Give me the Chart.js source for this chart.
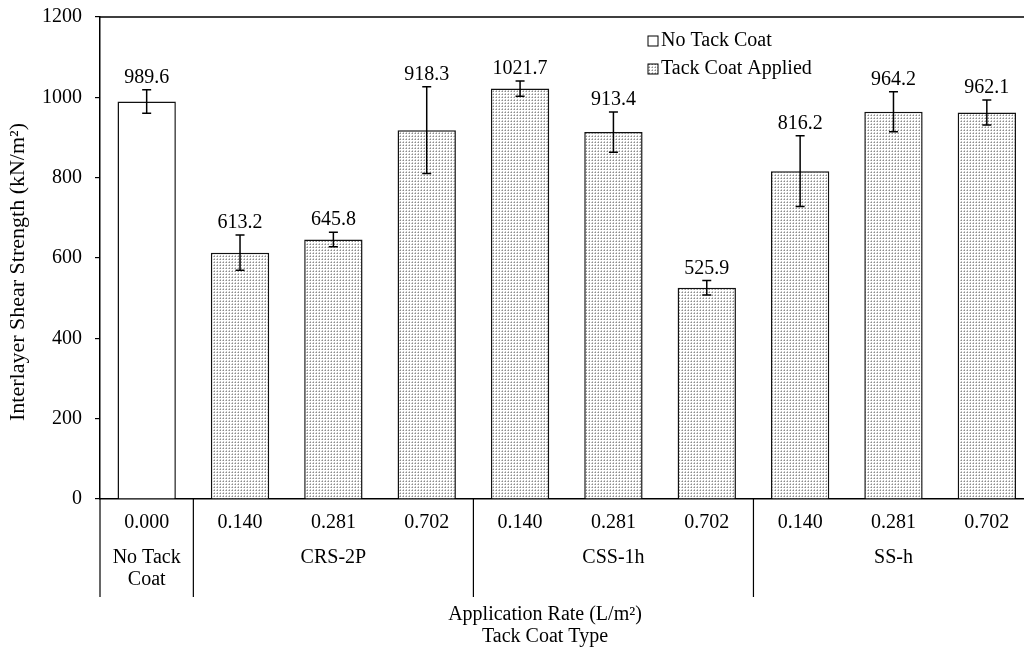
<!DOCTYPE html>
<html lang="en">
<head>
    <meta charset="UTF-8" />
    <title>Interlayer Shear Strength</title>
    <script src="https://cdn.jsdelivr.net/npm/chart.js"></script>
    <style>
        html, body { margin: 0; padding: 0; background: #fff; overflow: hidden; }
        #wrap { width: 1040px; height: 649px; }
    </style>
</head>
<body>
    <div id="wrap"><canvas id="myChart"></canvas></div>

    <script>
        // application rates (L/m²), one per bar
        const rates = ["0.000", "0.140", "0.281", "0.702", "0.140", "0.281", "0.702", "0.140", "0.281", "0.702"];
        // tack coat types and how many bars each one spans
        const types = [["No Tack", "Coat"], ["CRS-2P"], ["CSS-1h"], ["SS-h"]];
        const typeSpans = [1, 3, 3, 3];

        const noTackValues = [989.6, null, null, null, null, null, null, null, null, null];
        const appliedValues = [null, 613.2, 645.8, 918.3, 1021.7, 913.4, 525.9, 816.2, 964.2, 962.1];
        const errorValues = [29, 44, 18, 108, 19, 50, 18, 88, 50, 31];

        const yMin = 0, yMax = 1200, yStep = 200;

        const FONT = "'Liberation Serif', 'Times New Roman', serif";

        function makeDots() {
            const c = document.createElement("canvas");
            c.width = 3; c.height = 3;
            const g = c.getContext("2d");
            g.fillStyle = "#fff";
            g.fillRect(0, 0, 3, 3);
            g.fillStyle = "#8c8c8c";
            g.fillRect(1, 1, 1, 1);
            g.fillStyle = "#c4c4c4";
            g.fillRect(0, 1, 1, 1);
            g.fillRect(1, 0, 1, 1);
            return g.createPattern(c, "repeat");
        }
        const dots = makeDots();

        const extras = {
            id: "extras",
            afterDatasetsDraw(chart) {
                const { ctx, chartArea, scales } = chart;
                const x = scales.x, y = scales.y;
                ctx.save();

                // frame on top
                ctx.strokeStyle = "#000";
                ctx.lineWidth = 1.5;
                ctx.beginPath();
                ctx.moveTo(chartArea.left, chartArea.top);
                ctx.lineTo(chartArea.right, chartArea.top);
                ctx.lineTo(chartArea.right, chartArea.bottom);
                ctx.stroke();

                // error bars + value labels
                const values = noTackValues.map((v, i) => v != null ? v : appliedValues[i]);
                ctx.font = "20px " + FONT;
                ctx.fillStyle = "#000";
                ctx.textAlign = "center";
                ctx.textBaseline = "alphabetic";
                values.forEach((v, i) => {
                    const cx = x.getPixelForValue(i);
                    const hi = y.getPixelForValue(v + errorValues[i]);
                    const lo = y.getPixelForValue(v - errorValues[i]);
                    ctx.beginPath();
                    ctx.moveTo(cx, hi); ctx.lineTo(cx, lo);
                    ctx.moveTo(cx - 4.5, hi); ctx.lineTo(cx + 4.5, hi);
                    ctx.moveTo(cx - 4.5, lo); ctx.lineTo(cx + 4.5, lo);
                    ctx.stroke();
                    ctx.fillText(v.toFixed(1), cx, hi - 7);
                });

                // group separators and type labels
                ctx.lineWidth = 1.2;
                let start = 0;
                const edges = [start];
                typeSpans.forEach(s => { start += s; edges.push(start); });
                edges.forEach(e => {
                    const px = x.getPixelForValue(e - 0.5);
                    ctx.beginPath();
                    ctx.moveTo(px, chartArea.bottom);
                    ctx.lineTo(px, chartArea.bottom + 98);
                    ctx.stroke();
                });
                ctx.textBaseline = "middle";
                types.forEach((lines, k) => {
                    const a = x.getPixelForValue(edges[k] - 0.5);
                    const b = x.getPixelForValue(edges[k + 1] - 0.5);
                    lines.forEach((t, j) => {
                        ctx.fillText(t, (a + b) / 2, chartArea.bottom + 59 + j * 22);
                    });
                });

                // axis titles
                ctx.textBaseline = "alphabetic";
                ctx.fillText("Application Rate (L/m\u00B2)", 545, 620);
                ctx.fillText("Tack Coat Type", 545, 642);

                ctx.save();
                ctx.translate(18, 272);
                ctx.rotate(-Math.PI / 2);
                ctx.font = "22px " + FONT;
                ctx.textBaseline = "middle";
                ctx.fillText("Interlayer Shear Strength (kN/m\u00B2)", 0, 0);
                ctx.restore();

                // legend
                const lx = 648;
                [["No Tack Coat", "#fff"], ["Tack Coat Applied", dots]].forEach((item, j) => {
                    const ly = 41 + j * 28;
                    ctx.fillStyle = item[1];
                    ctx.fillRect(lx, ly - 5, 10, 10);
                    ctx.lineWidth = 1;
                    ctx.strokeStyle = "#000";
                    ctx.strokeRect(lx, ly - 5, 10, 10);
                    ctx.fillStyle = "#000";
                    ctx.textAlign = "left";
                    ctx.textBaseline = "middle";
                    ctx.fillText(item[0], lx + 13, ly);
                });

                ctx.restore();
            }
        };

        const ctx = document.getElementById("myChart").getContext("2d");
        new Chart(ctx, {
            type: "bar",
            data: {
                labels: rates,
                datasets: [
                    {
                        label: "No Tack Coat",
                        data: noTackValues,
                        backgroundColor: "#fff",
                        borderColor: "#111",
                        borderWidth: 1.5,
                    },
                    {
                        label: "Tack Coat Applied",
                        data: appliedValues,
                        backgroundColor: dots,
                        borderColor: "#111",
                        borderWidth: 1.5,
                    },
                ],
            },
            options: {
                responsive: true,
                maintainAspectRatio: false,
                animation: false,
                grouped: false,
                categoryPercentage: 1,
                barPercentage: 0.625,
                layout: { padding: { top: 17, right: 6.5, left: 0, bottom: 0 } },
                plugins: {
                    legend: { display: false },
                    tooltip: { enabled: false },
                },
                scales: {
                    x: {
                        grid: { display: false },
                        border: { display: true, color: "#000", width: 1.5 },
                        ticks: {
                            color: "#000",
                            font: { family: FONT, size: 20 },
                            padding: 4,
                            maxRotation: 0,
                        },
                        afterFit: s => { s.height = 150; s.paddingLeft = 0; s.paddingRight = 0; },
                    },
                    y: {
                        min: yMin,
                        max: yMax,
                        grid: { drawOnChartArea: false, drawTicks: true, tickLength: 5, color: "#000", lineWidth: 1.2 },
                        border: { display: true, color: "#000", width: 1.5 },
                        ticks: {
                            stepSize: yStep,
                            color: "#000",
                            font: { family: FONT, size: 20 },
                            padding: 13,
                            callback: v => String(v),
                        },
                        afterFit: s => { s.width = 100; s.paddingTop = 0; s.paddingBottom = 0; },
                    },
                },
            },
            plugins: [extras],
        });
    </script>
</body>
</html>
